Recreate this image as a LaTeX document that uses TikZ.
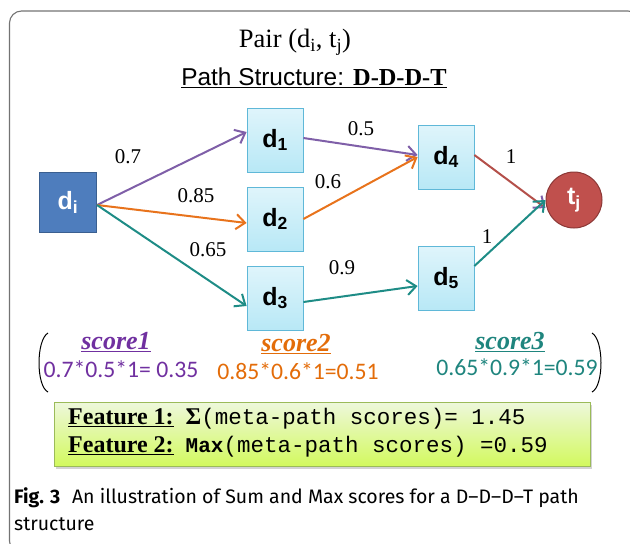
\documentclass[tikz,border=0pt]{standalone}
\usepackage{fontspec}
\setmainfont{Liberation Serif}
\newfontfamily\arialf{Liberation Sans}
\newfontfamily\carl{Carlito}
\newfontfamily\monof{Liberation Mono}
\newfontfamily\capf{Fira Sans}
\usetikzlibrary{arrows.meta,shadows,positioning}
\definecolor{ppl}{HTML}{7F5FA8}
\definecolor{org}{HTML}{E8731C}
\definecolor{tea}{HTML}{1E8C86}
\definecolor{brn}{HTML}{B4504A}
\definecolor{txtp}{HTML}{7030A0}
\definecolor{txto}{HTML}{E36C09}
\definecolor{txtt}{HTML}{1F857E}
\definecolor{dfill}{HTML}{B8E8F6}
\definecolor{dline}{HTML}{5FB8D8}
\definecolor{difill}{HTML}{4E7DBD}
\definecolor{diline}{HTML}{3A5F90}
\definecolor{tfill}{HTML}{C0504D}
\definecolor{tline}{HTML}{8C3836}
\definecolor{gfill}{HTML}{E2F3C4}
\definecolor{gline}{HTML}{9BBB59}
\tikzset{
  dbox/.style={draw=dline, line width=0.8pt, top color=dfill!45!white, bottom color=dfill, minimum width=56pt, minimum height=64pt, inner sep=0pt, font=\arialf\bfseries\fontsize{25}{27}\selectfont},
  dibox/.style={draw=diline, line width=1pt, fill=difill, text=white, minimum width=57pt, minimum height=60pt, inner sep=0pt, font=\arialf\bfseries\fontsize{25}{27}\selectfont},
  tcirc/.style={circle, draw=tline, line width=1pt, fill=tfill, text=white, minimum size=56pt, inner sep=0pt, font=\arialf\bfseries\fontsize{25}{27}\selectfont},
  arr/.style={line width=2pt, -{Straight Barb[length=9pt,width=15pt,line width=2pt]}},
  elab/.style={font=\fontsize{21}{23}\selectfont},
  sc/.style={font=\bfseries\itshape\fontsize{26}{28}\selectfont},
  scn/.style={font=\carl\fontsize{23.7}{26}\selectfont},
}
\begin{document}
\begin{tikzpicture}[x=1pt,y=-1pt]
\useasboundingbox (0,0) rectangle (630,544);
\draw[line width=1.1pt, draw=black!55, rounded corners=12pt] (9.5,11) rectangle (640,553);
\node[font=\fontsize{26.5}{28}\selectfont] (title) at (295,42) {Pair (d\textsubscript{i}, t\textsubscript{j})};
\node (ps) at (314,78) {\underline{\arialf\fontsize{24.4}{26}\selectfont Path Structure: {\rmfamily\bfseries D-D-D-T}}};

\node[dibox] (di) at (68,202) {d\textsubscript{i}};
\node[dbox] (d1) at (275,140) {d\textsubscript{1}};
\node[dbox] (d2) at (275,219) {d\textsubscript{2}};
\node[dbox] (d3) at (275,298) {d\textsubscript{3}};
\node[dbox] (d4) at (446,157) {d\textsubscript{4}};
\node[dbox] (d5) at (446,278) {d\textsubscript{5}};
\node[tcirc] (tj) at (574,200) {t\textsubscript{j}};

\coordinate (dis) at (97,205);
\draw[arr, ppl] (dis) -- ([yshift=8pt]d1.west);
\draw[arr, org] (dis) -- ([yshift=-4pt]d2.west);
\draw[arr, tea] (dis) -- ([yshift=-8pt]d3.west);
\draw[arr, ppl] ([yshift=2pt]d1.east) -- ([yshift=2pt]d4.west);
\draw[arr, org] (d2.east) -- ([yshift=0pt]d4.west);
\draw[arr, tea] ([yshift=-4pt]d3.east) -- ([yshift=-8pt]d5.west);
\draw[line width=2pt, brn, -{Straight Barb[length=9pt,width=15pt,line width=2pt,color=ppl]}] ([yshift=2pt]d4.east) -- ([yshift=-8pt]tj.west);
\draw[arr, tea] ([yshift=12pt]d5.east) -- ([yshift=0pt]tj.west);

\node[elab] (l1) at (128,157) {0.7};
\node[elab] (l2) at (196,196) {0.85};
\node[elab] (l3) at (208,250) {0.65};
\node[elab] (l4) at (361,129) {0.5};
\node[elab] (l5) at (328,182) {0.6};
\node[elab] (l6) at (342,268) {0.9};
\node[elab] (l7) at (511,157) {1};
\node[elab] (l8) at (487,237) {1};

\draw[line width=1pt] (48,333) .. controls (36,340) and (36,386) .. (48,392);
\draw[line width=1pt] (592,333) .. controls (604,340) and (604,386) .. (592,392);
\node[sc, txtp] (s1) at (116,342) {\underline{score1}};
\node[sc, txto] (s2) at (296,344) {\underline{score2}};
\node[sc, txtt] (s3) at (510,342) {\underline{score3}};
\node[scn, txtp] (n1) at (121,369) {0.7*0.5*1= 0.35};
\node[scn, txto] (n2) at (298,371) {0.85*0.6*1=0.51};
\node[scn, txtt] (n3) at (517,367) {0.65*0.9*1=0.59};

\node[draw=gline, line width=0.9pt, top color=gfill!60!white, bottom color=gfill!80!green!60!yellow, drop shadow={opacity=0.35, shadow xshift=2pt, shadow yshift=-3pt}, minimum width=536pt, minimum height=64pt, inner sep=0pt] (fb) at (322,434) {};
\node[anchor=west, font=\fontsize{24}{26}\selectfont, align=left, inner sep=0pt] (f1) at (68,419) {\underline{\textbf{Feature 1:}}\hspace{0.5em}{\bfseries Σ}{\monof\fontsize{22.5}{24}\selectfont(meta-path scores)= 1.45}};
\node[anchor=west, font=\fontsize{24}{26}\selectfont, align=left, inner sep=0pt] (f2) at (68,447) {\underline{\textbf{Feature 2:}}\hspace{0.5em}{\monof\bfseries\fontsize{21}{23}\selectfont Max}{\monof\fontsize{22.5}{24}\selectfont(meta-path scores) =0.59}};

\node[anchor=west, inner sep=0pt, font=\capf\fontsize{19.5}{22}\selectfont] (cap1) at (14,498) {\textbf{Fig. 3}\hspace{0.6em}An illustration of Sum and Max scores for a D–D–D–T path};
\node[anchor=west, inner sep=0pt, font=\capf\fontsize{19.5}{22}\selectfont] (cap2) at (14,524) {structure};
\end{tikzpicture}
\end{document}
